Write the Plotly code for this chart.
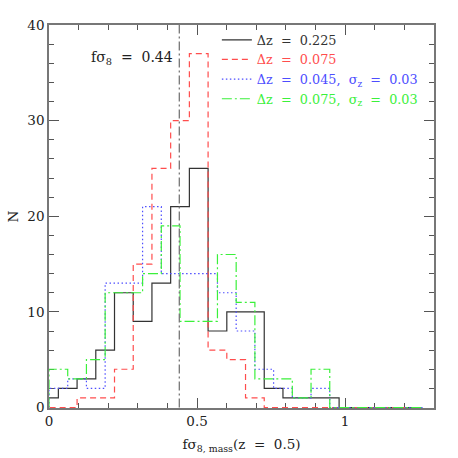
import plotly.graph_objects as go

# ---- data ----
bin_width = 0.0632
start_black_red = -0.0316   # first bin edge for the black / red histograms
start_blue_green = 0.0      # first bin edge for the blue / green histograms

counts_dz0225 = [1, 2, 3, 6, 12, 9, 13, 21, 25, 8, 10, 10, 2, 1, 1, 1, 0, 0, 0, 0]
counts_dz0075 = [0, 0, 1, 1, 4, 15, 25, 30, 37, 6, 5, 1, 0, 0, 0, 0, 0, 0, 0, 0]
counts_dz0045_sz = [2, 3, 2, 13, 13, 21, 14, 14, 14, 12, 8, 4, 2, 1, 2, 0, 0, 0, 0, 0]
counts_dz0075_sz = [4, 3, 5, 12, 12, 14, 19, 9, 9, 16, 11, 3, 3, 1, 4, 0, 0, 0, 0, 0]

series_names = [
    "Δz\u00a0 =\u00a0 0.225",
    "Δz\u00a0 =\u00a0 0.075",
    "Δz\u00a0 =\u00a0 0.045,\u00a0 σ<sub>z</sub>\u00a0 =\u00a0 0.03",
    "Δz\u00a0 =\u00a0 0.075,\u00a0 σ<sub>z</sub>\u00a0 =\u00a0 0.03",
]
fsig8_true = 0.44

x_ticks = [0, 0.5, 1]
x_ticklabels = ["0", "0.5", "1"]
y_ticks = [0, 10, 20, 30, 40]

# ---- styles ----
FONT = "DejaVu Serif"
TXT = "#222222"
colors = ["#333333", "#ff4d4d", "#4d4dff", "#3bf03b"]
dashes = ["solid", "6px,4px", "1.5px,2.5px", "10px,3px,2px,3px"]
starts = [start_black_red, start_black_red, start_blue_green, start_blue_green]
all_counts = [counts_dz0225, counts_dz0075, counts_dz0045_sz, counts_dz0075_sz]


def step_outline(start, counts):
    edges = [start + i * bin_width for i in range(len(counts) + 1)]
    xs = [edges[0]] + edges
    ys = [0] + list(counts) + [0]
    return xs, ys


fig = go.Figure()
for name, col, dsh, st, cnt in zip(series_names, colors, dashes, starts, all_counts):
    xs, ys = step_outline(st, cnt)
    fig.add_trace(go.Scatter(
        x=xs, y=ys, mode="lines", line=dict(shape="hv", color=col, width=1.2, dash=dsh),
        name=f"<span style='color:{col}'>{name}</span>", hoverinfo="skip",
    ))

# vertical reference line at the true value
fig.add_shape(type="line", x0=fsig8_true, x1=fsig8_true, y0=0, y1=40, xref="x", yref="y",
              line=dict(color="#777777", width=1.3, dash="9px,3px,2px,3px"))

fig.add_annotation(x=fsig8_true - 0.015, y=36.6, xref="x", yref="y", xanchor="right",
                   showarrow=False,
                   text="fσ<sub>8</sub>\u00a0 =\u00a0 " + str(fsig8_true),
                   font=dict(family=FONT, size=14, color=TXT))

axis_common = dict(
    showgrid=False, zeroline=False, showline=True, linecolor="#777777", linewidth=1.5,
    mirror="ticks", ticks="inside", ticklen=10, tickcolor="#555555", tickwidth=1,
    tickfont=dict(family=FONT, size=13.5, color=TXT), layer="below traces",
    automargin=False,
)

fig.update_layout(
    width=458, height=458,
    margin=dict(l=49, r=24, t=25, b=50),
    paper_bgcolor="white", plot_bgcolor="white",
    showlegend=True,
    legend=dict(x=0.436, y=1.0, xanchor="left", yanchor="top", bgcolor="rgba(0,0,0,0)",
                font=dict(family=FONT, size=12.8, color=TXT), tracegroupgap=0,
                itemwidth=30),
    xaxis=dict(range=[0, 1.3], tickvals=x_ticks, ticktext=x_ticklabels,
               minor=dict(dtick=0.1, ticklen=5, ticks="inside", tickcolor="#555555"),
               title=dict(text="fσ<sub>8, mass</sub>(z\u00a0 =\u00a0 0.5)",
                          font=dict(family=FONT, size=13.5, color=TXT), standoff=12),
               **axis_common),
    yaxis=dict(range=[-0.05, 40], tickvals=y_ticks,
               minor=dict(dtick=2, ticklen=5, ticks="inside", tickcolor="#555555"),
               title=dict(text="N", font=dict(family=FONT, size=13.5, color=TXT), standoff=6),
               **axis_common),
)

fig.write_html("out.html", config={"displayModeBar": False},
               post_script="document.body.style.margin='0';document.body.style.overflow='hidden';")
